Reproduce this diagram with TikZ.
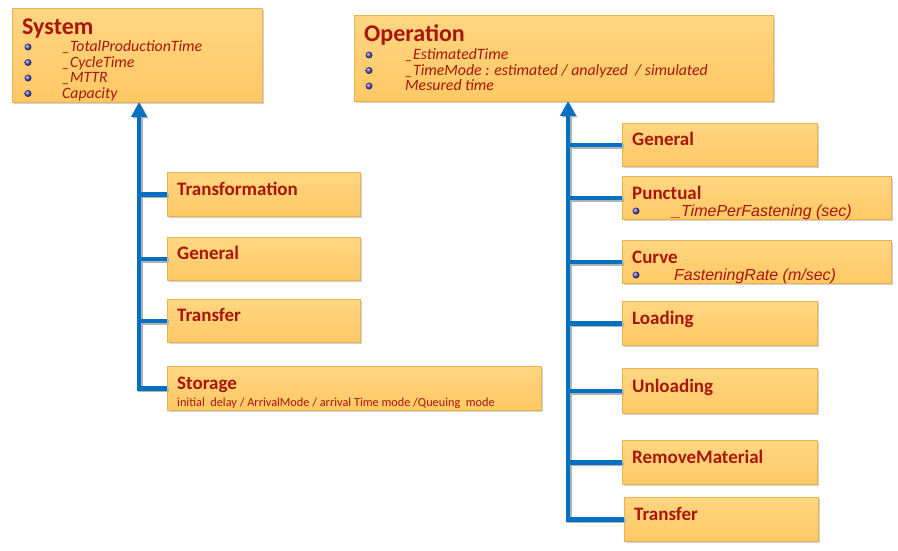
\documentclass[tikz,border=0pt]{standalone}
\usepackage{fontspec}
\setmainfont{Carlito}
\newfontfamily\arialish{Liberation Sans}
\usetikzlibrary{shadows,arrows.meta}
\definecolor{boxfill}{RGB}{255,200,100}
\definecolor{boxtop}{RGB}{255,214,130}
\definecolor{boxedge}{RGB}{236,178,80}
\definecolor{txt}{RGB}{168,22,10}
\definecolor{link}{RGB}{0,112,192}
\definecolor{bulletc}{RGB}{80,80,190}
\begin{document}
\begin{tikzpicture}[x=1pt,y=-1pt,
  box/.style={draw=boxedge, line width=0.8pt, top color=boxtop, bottom color=boxfill,
    drop shadow={shadow xshift=2pt,shadow yshift=-2pt,opacity=0.35},
    anchor=north west, inner sep=0pt},
  bigtitle/.style={anchor=base west, inner sep=0pt, text=txt, font=\fontsize{24}{26}\selectfont\bfseries},
  title/.style={anchor=base west, inner sep=0pt, text=txt, font=\fontsize{19}{21}\selectfont\bfseries},
  item/.style={anchor=base west, inner sep=0pt, text=txt, font=\fontsize{15.8}{17}\selectfont\itshape},
  aitem/.style={anchor=base west, inner sep=0pt, text=txt, font=\arialish\fontsize{16}{18}\selectfont\itshape},
  sub/.style={anchor=base west, inner sep=0pt, text=txt, font=\fontsize{12.3}{13}\selectfont},
  dot/.style={circle, inner sep=0pt, minimum size=7pt, shading=ball, ball color=bulletc},
  link/.style={draw=link, line width=4.5pt, preaction={draw=black!30, line width=4.5pt, transform canvas={shift={(1.5pt,-1.5pt)}}}},
]
\useasboundingbox (0,0) rectangle (898,551);

% ---------- System ----------
\node[box, minimum width=250pt, minimum height=94pt] (sys) at (12,8) {};
\node[bigtitle] (sysT) at (22,35) {System};
\node[dot] (sb1) at (28,47) {};
\node[dot] (sb2) at (28,62.5) {};
\node[dot] (sb3) at (28,78) {};
\node[dot] (sb4) at (28,93.5) {};
\node[item] (si1) at (62,52) {\_TotalProductionTime};
\node[item] (si2) at (62,67.5) {\_CycleTime};
\node[item] (si3) at (62,83) {\_MTTR};
\node[item] (si4) at (62,98.5) {Capacity};

% ---------- Operation ----------
\node[box, minimum width=419pt, minimum height=86pt] (op) at (354,15) {};
\node[bigtitle] (opT) at (364,42) {Operation};
\node[dot] (ob1) at (369,55) {};
\node[dot] (ob2) at (369,70.5) {};
\node[dot] (ob3) at (369,86) {};
\node[item] (oi1) at (405,60) {\_EstimatedTime};
\node[item] (oi2) at (405,75.5) {\_TimeMode : estimated / analyzed\ \ / simulated};
\node[item] (oi3) at (405,91) {Mesured time};

% ---------- Left children ----------
\node[box, minimum width=193pt, minimum height=44pt] (ltr) at (167,172) {};
\node[title] at (177,195) {Transformation};
\node[box, minimum width=193pt, minimum height=43pt] (lgen) at (167,237) {};
\node[title] at (177,259) {General};
\node[box, minimum width=193pt, minimum height=43pt] (ltf) at (167,299) {};
\node[title] at (177,321) {Transfer};
\node[box, minimum width=374pt, minimum height=44pt] (lst) at (167,366) {};
\node[title] at (177,389) {Storage};
\node[sub] at (177,406) {initial\ \ delay / ArrivalMode / arrival Time mode /Queuing\ \ mode};

% ---------- Right children ----------
\node[box, minimum width=195pt, minimum height=43pt] (rgen) at (622,123) {};
\node[title] at (632,146) {General};
\node[box, minimum width=269pt, minimum height=43pt] (rpun) at (622,176) {};
\node[title] at (632,199) {Punctual};
\node[dot] (pb) at (636,211) {};
\node[aitem] at (672,216) {\_TimePerFastening (sec)};
\node[box, minimum width=269pt, minimum height=43pt] (rcur) at (622,240) {};
\node[title] at (632,263) {Curve};
\node[dot] (cb) at (636,275) {};
\node[aitem] at (674,280) {FasteningRate (m/sec)};
\node[box, minimum width=195pt, minimum height=44pt] (rld) at (622,301) {};
\node[title] at (632,324) {Loading};
\node[box, minimum width=195pt, minimum height=45pt] (rul) at (622,368) {};
\node[title] at (632,392) {Unloading};
\node[box, minimum width=195pt, minimum height=44pt] (rrm) at (622,440) {};
\node[title] at (632,463) {RemoveMaterial};
\node[box, minimum width=194pt, minimum height=44pt] (rtf) at (624,497) {};
\node[title] at (634,520) {Transfer};

% ---------- Connectors ----------
\coordinate (ltop) at (139,102);
\coordinate (rtop) at (568,101);
\path[link, -{Triangle[width=15pt,length=15pt]}] (lst.west) -| (ltop);
\path[link] (ltr.west) -- (ltr.west -| ltop);
\path[link] (lgen.west) -- (lgen.west -| ltop);
\path[link] (ltf.west) -- (ltf.west -| ltop);

\path[link, -{Triangle[width=15pt,length=15pt]}] (rtf.west) -| (rtop);
\path[link] (rgen.west) -- (rgen.west -| rtop);
\path[link] (rpun.west) -- (rpun.west -| rtop);
\path[link] (rcur.west) -- (rcur.west -| rtop);
\path[link] (rld.west) -- (rld.west -| rtop);
\path[link] (rul.west) -- (rul.west -| rtop);
\path[link] (rrm.west) -- (rrm.west -| rtop);
\end{tikzpicture}
\end{document}
